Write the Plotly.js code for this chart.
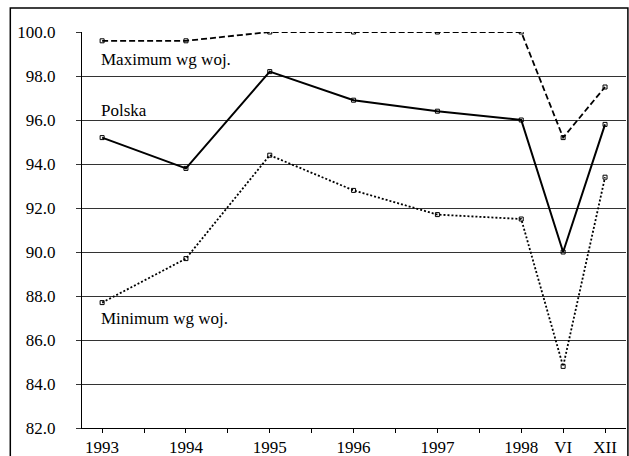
<!DOCTYPE html>
<html>
<head>
<meta charset="utf-8">
<script src="https://cdn.plot.ly/plotly-3.0.1.min.js"></script>
</head>
<body style="margin:0;background:#fff">
<div id="chart" style="width:629px;height:456px"></div>
<script>
// time positions: years 1993-1998, then VI and XII of the following year
const periods = [1993, 1994, 1995, 1996, 1997, 1998, 1998.5, 1999];
const periodLabels = ['1993', '1994', '1995', '1996', '1997', '1998', 'VI', 'XII'];
const maximumWgWoj = [99.6, 99.6, 100.0, 100.0, 100.0, 100.0, 95.2, 97.5];
const polska = [95.2, 93.8, 98.2, 96.9, 96.4, 96.0, 90.0, 95.8];
const minimumWgWoj = [87.7, 89.7, 94.4, 92.8, 91.7, 91.5, 84.8, 93.4];
const seriesNames = ['Maximum wg woj.', 'Polska', 'Minimum wg woj.'];
const yTicks = [82, 84, 86, 88, 90, 92, 94, 96, 98, 100];

// tick marks every half step; labels only at the data periods
const tickVals = [];
const tickText = [];
for (let t = 1993; t <= 1999; t += 0.5) {
  tickVals.push(t);
  const i = periods.indexOf(t);
  tickText.push(i >= 0 ? periodLabels[i] : '');
}

const FAM = 'Liberation Serif';
const mkMarker = () => ({symbol: 'square-open', size: 4, color: '#000', line: {width: 1, color: '#000'}});

const traces = [
  {x: periods, y: maximumWgWoj, name: seriesNames[0], mode: 'lines+markers',
   line: {color: '#000', width: 1.8, dash: '6px,3px'}, marker: mkMarker()},
  {x: periods, y: polska, name: seriesNames[1], mode: 'lines+markers',
   line: {color: '#000', width: 2}, marker: mkMarker()},
  {x: periods, y: minimumWgWoj, name: seriesNames[2], mode: 'lines+markers',
   line: {color: '#000', width: 1.8, dash: '2px,2px'}, marker: mkMarker()}
];

const labelY = [98.77, 96.45, 86.96];

const layout = {
  width: 629, height: 456,
  margin: {l: 82, r: 3, t: 32, b: 28},
  showlegend: false,
  xaxis: {
    range: [1992.76, 1999.25],
    tickmode: 'array', tickvals: tickVals, ticktext: tickText,
    ticks: 'outside', ticklen: 4, tickcolor: '#000', tickwidth: 1,
    showline: true, linecolor: '#000', linewidth: 1,
    showgrid: false, zeroline: false,
    tickfont: {family: FAM, size: 17, color: '#000'}
  },
  yaxis: {
    range: [82, 100],
    tickmode: 'array', tickvals: yTicks,
    ticktext: yTicks.map(v => v.toFixed(1)),
    ticks: 'outside', ticklen: 5, tickcolor: '#333', tickwidth: 1,
    ticklabelstandoff: 17,
    showline: true, linecolor: '#000', linewidth: 1,
    showgrid: true, gridcolor: '#333', gridwidth: 1,
    zeroline: false,
    tickfont: {family: FAM, size: 17, color: '#000'}
  },
  annotations: seriesNames.map((n, i) => ({
    x: periods[0], y: labelY[i], xref: 'x', yref: 'y', text: n, showarrow: false,
    xanchor: 'left', yanchor: 'middle', font: {family: FAM, size: 17, color: '#000'}, xshift: -3
  })),
  shapes: [
    {type: 'rect', xref: 'paper', yref: 'paper', x0: -0.1318, x1: 1.0035, y0: -0.1, y1: 1.0606,
     line: {color: '#000', width: 1.5}, fillcolor: 'rgba(0,0,0,0)', layer: 'below'}
  ]
};

Plotly.newPlot('chart', traces, layout, {displayModeBar: false});
</script>
</body>
</html>
